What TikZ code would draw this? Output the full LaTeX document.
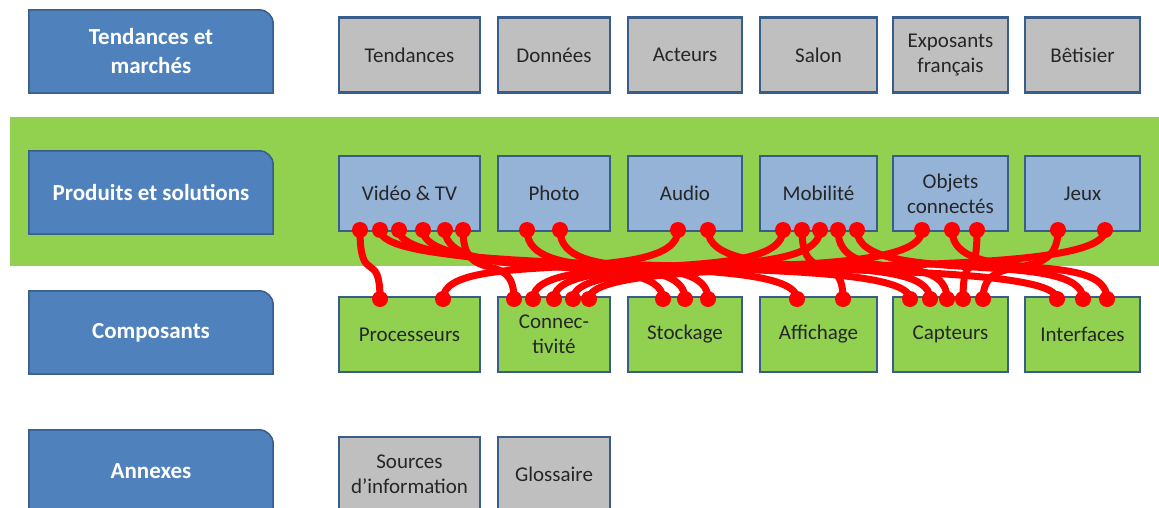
\documentclass[tikz,border=0pt]{standalone}
\usepackage{fontspec}
\setmainfont{Carlito}
\usetikzlibrary{backgrounds}
\definecolor{catblue}{HTML}{4F81BD}
\definecolor{boxline}{HTML}{385D8A}
\definecolor{prodblue}{HTML}{95B3D7}
\definecolor{boxgray}{HTML}{BFBFBF}
\definecolor{bandgreen}{HTML}{92D050}
\definecolor{wirered}{HTML}{FF0000}
\tikzset{
  catbox/.style={minimum width=244pt, minimum height=83pt, inner sep=0pt, align=center,
    text=white, font=\fontsize{23}{29}\selectfont\bfseries},
  catline/.style={draw=boxline, line width=1.5pt, fill=catblue},
  itembox/.style={draw=boxline, line width=2.5pt, minimum height=75pt, inner sep=0pt,
    align=center, text=black!85, font=\fontsize{21}{25}\selectfont},
  wire/.style={wirered, line width=7pt}
}

\begin{document}
\begin{tikzpicture}[x=1pt, y=-1pt]
\useasboundingbox (0,0) rectangle (1159,508);
\clip (0,0) rectangle (1159,508);

% Category boxes (left)
\node[catbox] (tend) at (151,51.5) {Tendances et\\marchés};
\node[catbox] (prod) at (151,192.5) {Produits et solutions};
\node[catbox] (comp) at (151,332.5) {Composants};
\node[catbox] (anx) at (151,471.5) {Annexes};

% Band and tab shapes
\begin{scope}[on background layer]
  \fill[bandgreen] (10,117) rectangle (1159,266);
  \foreach \n in {tend,prod,comp,anx}
    \draw[catline] (\n.south west) -- (\n.north west) -- ([xshift=-14pt]\n.north east)
      arc[start angle=270, end angle=360, radius=14] -- (\n.south east) -- cycle;
\end{scope}

% Item rows
\foreach \x/\w/\txt [count=\i] in {409.5/141/Tendances, 554/112/Données, 685/114/Acteurs,
    818.5/117/Salon, 950.5/115/{Exposants\\français}, 1082.5/115/Bêtisier}
  \node[itembox, fill=boxgray, minimum width=\w] (t\i) at (\x,55) {\txt};
\foreach \x/\w/\txt [count=\i] in {409.5/141/{Vidéo \& TV}, 554/112/Photo, 685/114/Audio,
    818.5/117/Mobilité, 950.5/115/{Objets\\connectés}, 1082.5/115/Jeux}
  \node[itembox, fill=prodblue, minimum width=\w] (p\i) at (\x,193.5) {\txt};
\foreach \x/\w/\txt [count=\i] in {409.5/141/Processeurs, 554/112/{Connec-\\tivité}, 685/114/Stockage,
    818.5/117/Affichage, 950.5/115/Capteurs, 1082.5/115/Interfaces}
  \node[itembox, fill=bandgreen, minimum width=\w] (c\i) at (\x,334.5) {\txt};
\node[itembox, fill=boxgray, minimum width=141] (a1) at (409.5,474.5) {Sources\\d’information};
\node[itembox, fill=boxgray, minimum width=112] (a2) at (554,474.5) {Glossaire};

% Wire ends
\foreach \n/\x in {vid1/360, vid2/380, vid3/399, vid4/423, vid5/445, vid6/463,
    pho1/527, pho2/560, aud1/678, aud2/708, mob1/783, mob2/802, mob3/820, mob4/838, mob5/857,
    obj1/922, obj2/952, obj3/977, jeu1/1058, jeu2/1105}
  \coordinate (\n) at (\x,230);
\foreach \n/\x in {pro1/380, pro2/443, con1/514, con2/533, con3/554, con4/573, con5/589,
    sto1/663, sto2/685, sto3/708, aff1/797, aff2/843, cap1/910, cap2/930, cap3/947, cap4/963,
    cap5/983, int1/1057, int2/1083, int3/1107}
  \coordinate (\n) at (\x,299);

% Wires
\foreach \a/\b in {vid1/pro1, vid2/int1, vid3/cap1, vid4/aff1, vid5/sto1, vid6/con1,
    pho1/sto2, pho2/sto3, aud1/pro2, aud2/cap2,
    mob1/con2, mob2/aff2, mob3/con3, mob4/cap3, mob5/int2,
    obj1/con4, obj2/int3, obj3/cap4, jeu1/cap5, jeu2/con5}
  \draw[wire] (\a) .. controls +(0,58) and +(0,-52) .. (\b);
\foreach \n in {vid1,vid2,vid3,vid4,vid5,vid6,pho1,pho2,aud1,aud2,mob1,mob2,mob3,mob4,mob5,
    obj1,obj2,obj3,jeu1,jeu2,pro1,pro2,con1,con2,con3,con4,con5,sto1,sto2,sto3,
    aff1,aff2,cap1,cap2,cap3,cap4,cap5,int1,int2,int3}
  \fill[wirered] (\n) circle[radius=8];
\end{tikzpicture}
\end{document}
